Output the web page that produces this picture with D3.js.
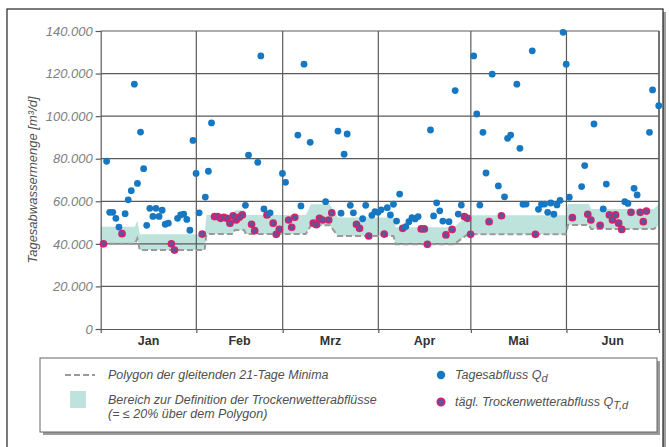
<!DOCTYPE html>
<html>
<head>
<meta charset="utf-8">
<script src="https://cdn.jsdelivr.net/npm/d3@7"></script>
<style>
  body { margin: 0; background: #fff; }
  svg { display: block; font-family: "Liberation Sans", Arial, sans-serif; }
</style>
</head>
<body>
<div id="chart"></div>
<script>
// daily flow Q_d in m³/d, one array per month (null = no point visible)
const months = ["Jan", "Feb", "Mrz", "Apr", "Mai", "Jun"];
const qJan = [40000, 78800, 54800, 54800, 52000, 47900, 44800, 54200, 60700, 65000, 115000, 68400, 92500, 75300, 48700, 56700,
  52900, 56700, 52900, 55800, 49200, 49700, 40000, 37100, 52000, 53600, 54000, 51500, 46400, 88600, 73100];
const qFeb = [54600, 44600, 62000, 74100, 96800, 52800, 52800, 52000, 52500, 52000, 49700, 53100, 51200, 52500, 53600, 58100,
  81700, 49200, 46200, 78300, 128300, 56400, 53600, 54600, 49700, 44500, 46800, 73100];
const qMar = [68900, 51200, 47800, 52500, 91100, 57800, 124400, null, 87700, 49700, 49000, 52000, 51200, 59800, 51200, 54600,
  null, 93000, 54400, 82100, 91600, 58100, 54600, 49200, 47300, 51800, 58100, 43700, 53400, 55100, 54800];
const qApr = [56000, 44600, 57000, 53600, 58600, 50700, 63400, 47300, 48100, 50400, 52300, 51700, 52800, 47000, 47000, 39800,
  93500, 53100, 59300, 55500, 50700, 44200, 50400, 46800, 112000, 54000, 58200, 52800, 52000, 44500];
const qMai = [128300, 101000, 58200, 92400, 73300, 50400, 119700, null, 67200, 53200, 62100, 89600, 91100, null, 115000, 84900,
  58600, 58700, null, 130700, 44500, 56200, 58600, 58700, 54800, 59200, 53900, 58300, 60400, 139400, 124400];
const qJun = [61900, 52300, null, null, 66900, 76800, 53900, 51200, 96300, null, 48700, 56400, 68100, 53600, 51200, 53600,
  49700, 46800, 59800, 59000, 54800, 66100, 63000, 54800, 50400, 55400, 92400, 112300, null, 104900];

// days counted as dry-weather flow Q_T,d
const dryJan = [1, 7, 23, 24];
const dryFeb = [2, 6, 7, 8, 9, 10, 11, 12, 13, 14, 15, 18, 19, 23, 25, 26, 27];
const dryMar = [2, 3, 4, 10, 11, 12, 13, 15, 16, 24, 25, 28];
const dryApr = [2, 8, 14, 15, 16, 22, 24, 28, 29, 30];
const dryMai = [6, 10, 21];
const dryJun = [2, 7, 8, 11, 14, 15, 16, 17, 18, 21, 24, 25, 26];

// polygon of the moving 21-day minima (day of year, value)
const polyDay = [0, 11.1, 11.9, 12.7, 33.7, 34.3, 42.9, 43.5, 46.5, 47.1, 66.5, 68.2, 74.3, 76.9, 94.9, 95.7,
  114.5, 119, 150.8, 151.5, 158.3, 159, 179.4, 181];
const polyValue = [40000, 40000, 42500, 37100, 37100, 44600, 44600, 46500, 46500, 44600, 44600, 48800, 48800, 43700, 43700, 39800,
  39800, 44500, 44500, 48900, 48900, 47000, 47000, 49000];

const yTicks = [0, 20000, 40000, 60000, 80000, 100000, 120000, 140000];

const colors = {
  flow: "#1677c2",
  dryFill: "#5a55a0",
  dryRing: "#d42369",
  band: "#bde3dc",
  poly: "#9a9a9a",
  grid: "#5a5a5a",
  tick: "#808080",
  text: "#505050"
};

const year = 2009;
const flows = [qJan, qFeb, qMar, qApr, qMai, qJun];
const dries = [dryJan, dryFeb, dryMar, dryApr, dryMai, dryJun];

const points = [];
flows.forEach((arr, m) => {
  arr.forEach((v, i) => {
    if (v == null) return;
    points.push({ date: new Date(year, m, i + 1), value: v, dry: dries[m].includes(i + 1) });
  });
});

const poly = polyDay.map((d, i) => ({ date: d3.timeHour.offset(new Date(year, 0, 1), d * 24), value: polyValue[i] }));

// dimensions
const W = 669, H = 447;
const plot = { left: 100.7, right: 659, top: 31, bottom: 329 };

const svg = d3.select("#chart").append("svg")
  .attr("width", W)
  .attr("height", H);

// outer frame with shadow
svg.append("rect").attr("x", 10).attr("y", 12).attr("width", 656).attr("height", 450).attr("fill", "#a0a0a0");
svg.append("rect").attr("x", 7).attr("y", 9).attr("width", 656).attr("height", 450)
  .attr("fill", "#fff").attr("stroke", "#222").attr("stroke-width", 1.2);

const x = d3.scaleTime()
  .domain([new Date(year, 0, 1), new Date(year, 6, 1)])
  .range([plot.left, plot.right]);

const y = d3.scaleLinear()
  .domain([0, 140000])
  .range([plot.bottom, plot.top]);

// band: polygon up to +20%
svg.append("path")
  .datum(poly)
  .attr("fill", colors.band)
  .attr("d", d3.area().x(d => x(d.date)).y0(d => y(d.value)).y1(d => y(d.value * 1.2)));

// grid
const monthStarts = d3.range(0, 7).map(m => new Date(year, m, 1));
svg.append("g").selectAll("line.h")
  .data(yTicks.slice(1))
  .join("line")
  .attr("x1", plot.left).attr("x2", plot.right)
  .attr("y1", d => y(d)).attr("y2", d => y(d))
  .attr("stroke", colors.grid).attr("stroke-width", 1.2);

svg.append("g").selectAll("line.v")
  .data(monthStarts.slice(1))
  .join("line")
  .attr("x1", d => x(d)).attr("x2", d => x(d))
  .attr("y1", plot.top).attr("y2", plot.bottom)
  .attr("stroke", colors.grid).attr("stroke-width", 1.2);

// polygon (dashed)
svg.append("path")
  .datum(poly)
  .attr("fill", "none")
  .attr("stroke", colors.poly)
  .attr("stroke-width", 2)
  .attr("stroke-dasharray", "6,3")
  .attr("d", d3.line().x(d => x(d.date)).y(d => y(d.value)));

// axes
const de = d3.formatLocale({ decimal: ",", thousands: ".", grouping: [3], currency: ["", " €"] });

const yAxis = svg.append("g")
  .attr("transform", `translate(${plot.left},0)`)
  .call(d3.axisLeft(y).tickValues(yTicks).tickFormat(de.format(",")).tickSize(5).tickPadding(3));
yAxis.select(".domain").attr("stroke", colors.grid).attr("stroke-width", 1.2);
yAxis.selectAll(".tick line").attr("stroke", colors.grid).attr("stroke-width", 1.2);
yAxis.selectAll(".tick text")
  .attr("fill", colors.tick)
  .style("font-size", "13px")
  .style("font-style", "italic");

const xAxis = svg.append("g")
  .attr("transform", `translate(0,${plot.bottom})`)
  .call(d3.axisBottom(x).tickValues(monthStarts).tickFormat("").tickSize(4).tickSizeOuter(0));
xAxis.select(".domain").attr("stroke", colors.grid).attr("stroke-width", 1.2);
xAxis.selectAll(".tick line").attr("stroke", colors.grid).attr("stroke-width", 1.2);

// month labels, centred in each month
svg.append("g").selectAll("text")
  .data(months)
  .join("text")
  .attr("x", (d, i) => (x(monthStarts[i]) + x(monthStarts[i + 1])) / 2)
  .attr("y", 345)
  .attr("text-anchor", "middle")
  .attr("fill", "#333")
  .style("font-size", "12.5px")
  .style("font-weight", "bold")
  .text(d => d);

// right border of the plot
svg.append("line")
  .attr("x1", plot.right).attr("x2", plot.right)
  .attr("y1", plot.top).attr("y2", plot.bottom)
  .attr("stroke", colors.grid).attr("stroke-width", 1.2);

// y label
svg.append("text")
  .attr("transform", `translate(37,${(plot.top + plot.bottom) / 2}) rotate(-90)`)
  .attr("text-anchor", "middle")
  .attr("fill", colors.text)
  .style("font-size", "13px")
  .style("font-style", "italic")
  .text("Tagesabwassermenge [m³/d]");

// dots (plotted near the end of each day)
const px = d => x(d3.timeHour.offset(d.date, 22));
svg.append("g").selectAll("circle")
  .data(points)
  .join("circle")
  .attr("cx", px)
  .attr("cy", d => y(d.value))
  .attr("r", d => d.dry ? 3.1 : 3.4)
  .attr("fill", d => d.dry ? colors.dryFill : colors.flow)
  .attr("stroke", d => d.dry ? colors.dryRing : "none")
  .attr("stroke-width", 1.5);

// legend
const lg = svg.append("g");
lg.append("rect").attr("x", 43).attr("y", 361).attr("width", 617).attr("height", 74).attr("fill", "#9a9a9a");
lg.append("rect").attr("x", 40).attr("y", 358).attr("width", 617).attr("height", 74)
  .attr("fill", "#fff").attr("stroke", "#666").attr("stroke-width", 1);

lg.append("line").attr("x1", 65).attr("x2", 95).attr("y1", 375).attr("y2", 375)
  .attr("stroke", colors.poly).attr("stroke-width", 2).attr("stroke-dasharray", "6,3");
lg.append("rect").attr("x", 70).attr("y", 391).attr("width", 16).attr("height", 17).attr("fill", colors.band);
lg.append("circle").attr("cx", 441).attr("cy", 375).attr("r", 4.2).attr("fill", colors.flow);
lg.append("circle").attr("cx", 441).attr("cy", 402).attr("r", 3.7)
  .attr("fill", colors.dryFill).attr("stroke", colors.dryRing).attr("stroke-width", 1.7);

const lt = (tx, ty) => lg.append("text").attr("x", tx).attr("y", ty)
  .attr("fill", colors.text).style("font-size", "12.5px").style("font-style", "italic");

lt(108, 379).text("Polygon der gleitenden 21-Tage Minima");
lt(108, 404).text("Bereich zur Definition der Trockenwetterabflüsse");
lt(108, 418).text("(= ≤ 20% über dem Polygon)");

const t1 = lt(455, 379).text("Tagesabfluss Q");
t1.append("tspan").attr("dy", 3).style("font-size", "11px").text("d");
const t2 = lt(455, 406).text("tägl. Trockenwetterabfluss Q");
t2.append("tspan").attr("dy", 3).style("font-size", "11px").text("T,d");
</script>
</body>
</html>
